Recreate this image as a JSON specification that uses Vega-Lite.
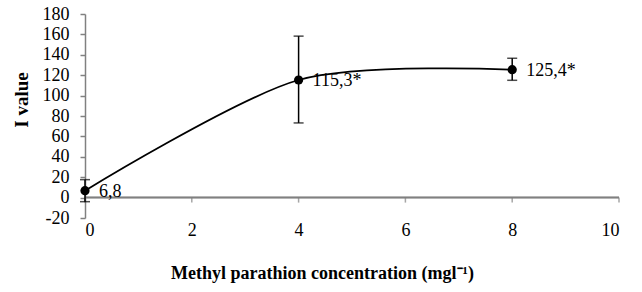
{
  "$schema": "https://vega.github.io/schema/vega-lite/v6.json",
  "width": 534,
  "height": 204,
  "autosize": "none",
  "padding": {"left": 85, "top": 14, "right": 23, "bottom": 74},
  "background": "white",
  "config": {
    "view": {"stroke": null},
    "font": "Liberation Serif",
    "axis": {"labelFont": "Liberation Serif", "titleFont": "Liberation Serif", "grid": false, "labelColor": "black", "titleColor": "black", "labelOverlap": false}
  },
  "datasets": {
    "points": [
      {"c": 0, "v": 6.8, "lo": -4, "hi": 17.6, "label": "6,8"},
      {"c": 4, "v": 115.3, "lo": 73.2, "hi": 158.3, "label": "115,3*"},
      {"c": 8, "v": 125.4, "lo": 115, "hi": 136.6, "label": "125,4*"}
    ],
    "xticks": [{"t": 0}, {"t": 2}, {"t": 4}, {"t": 6}, {"t": 8}, {"t": 10}]
  },
  "data": {"name": "points"},
  "layer": [
    {
      "mark": {"type": "rule", "color": "#808080", "strokeWidth": 1.5},
      "encoding": {
        "y": {"datum": 0, "type": "quantitative"}
      }
    },
    {
      "data": {"name": "xticks"},
      "mark": {"type": "tick", "orient": "vertical", "color": "#808080", "size": 5, "thickness": 1.5, "yOffset": 2.5},
      "encoding": {
        "x": {"field": "t", "type": "quantitative"},
        "y": {"datum": 0, "type": "quantitative"}
      }
    },
    {
      "mark": {"type": "line", "interpolate": "cardinal", "tension": 0.15, "color": "black", "strokeWidth": 1.8},
      "encoding": {
        "x": {
          "field": "c", "type": "quantitative",
          "scale": {"domain": [0, 10], "nice": false},
          "axis": {
            "orient": "bottom",
            "values": [0, 2, 4, 6, 8, 10], "domain": false, "ticks": false, "labelPadding": 3, "labelFontSize": 18, "labelOverlap": false,
            "labelExpr": "'' + datum.value",
            "title": "Methyl parathion concentration (mgl⁻¹)",
            "titleFontSize": 18, "titleFontWeight": "bold",
            "titleX": 237, "titleY": 55, "titleBaseline": "middle"
          }
        },
        "y": {
          "field": "v", "type": "quantitative",
          "scale": {"domain": [-20, 180], "nice": false},
          "axis": {
            "orient": "left",
            "values": [-20, 0, 20, 40, 60, 80, 100, 120, 140, 160, 180],
            "tickCount": 20,
            "labelOverlap": false,
            "labelExpr": "'' + datum.value",
            "title": "I value",
            "titleFontSize": 19, "titleFontWeight": "bold",
            "titleX": -63.5, "titleY": 85.5, "titleBaseline": "middle", "titleAngle": -90,
            "labelFontSize": 18, "labelPadding": 11,
            "domainColor": "#808080", "tickColor": "#808080", "tickSize": 5, "domainWidth": 1.5, "tickWidth": 1.5
          }
        }
      }
    },
    {
      "mark": {"type": "rule", "color": "black", "strokeWidth": 1.5},
      "encoding": {
        "x": {"field": "c", "type": "quantitative"},
        "y": {"field": "lo", "type": "quantitative"},
        "y2": {"field": "hi"}
      }
    },
    {
      "mark": {"type": "tick", "orient": "horizontal", "color": "black", "size": 10, "thickness": 1.5},
      "encoding": {
        "x": {"field": "c", "type": "quantitative"},
        "y": {"field": "lo", "type": "quantitative"}
      }
    },
    {
      "mark": {"type": "tick", "orient": "horizontal", "color": "black", "size": 10, "thickness": 1.5},
      "encoding": {
        "x": {"field": "c", "type": "quantitative"},
        "y": {"field": "hi", "type": "quantitative"}
      }
    },
    {
      "mark": {"type": "point", "filled": true, "color": "black", "size": 85, "opacity": 1},
      "encoding": {
        "x": {"field": "c", "type": "quantitative"},
        "y": {"field": "v", "type": "quantitative"}
      }
    },
    {
      "mark": {"type": "text", "align": "left", "baseline": "middle", "dx": 14, "dy": 1, "fontSize": 18, "color": "black", "font": "Liberation Serif"},
      "encoding": {
        "x": {"field": "c", "type": "quantitative"},
        "y": {"field": "v", "type": "quantitative"},
        "text": {"field": "label"}
      }
    }
  ]
}
